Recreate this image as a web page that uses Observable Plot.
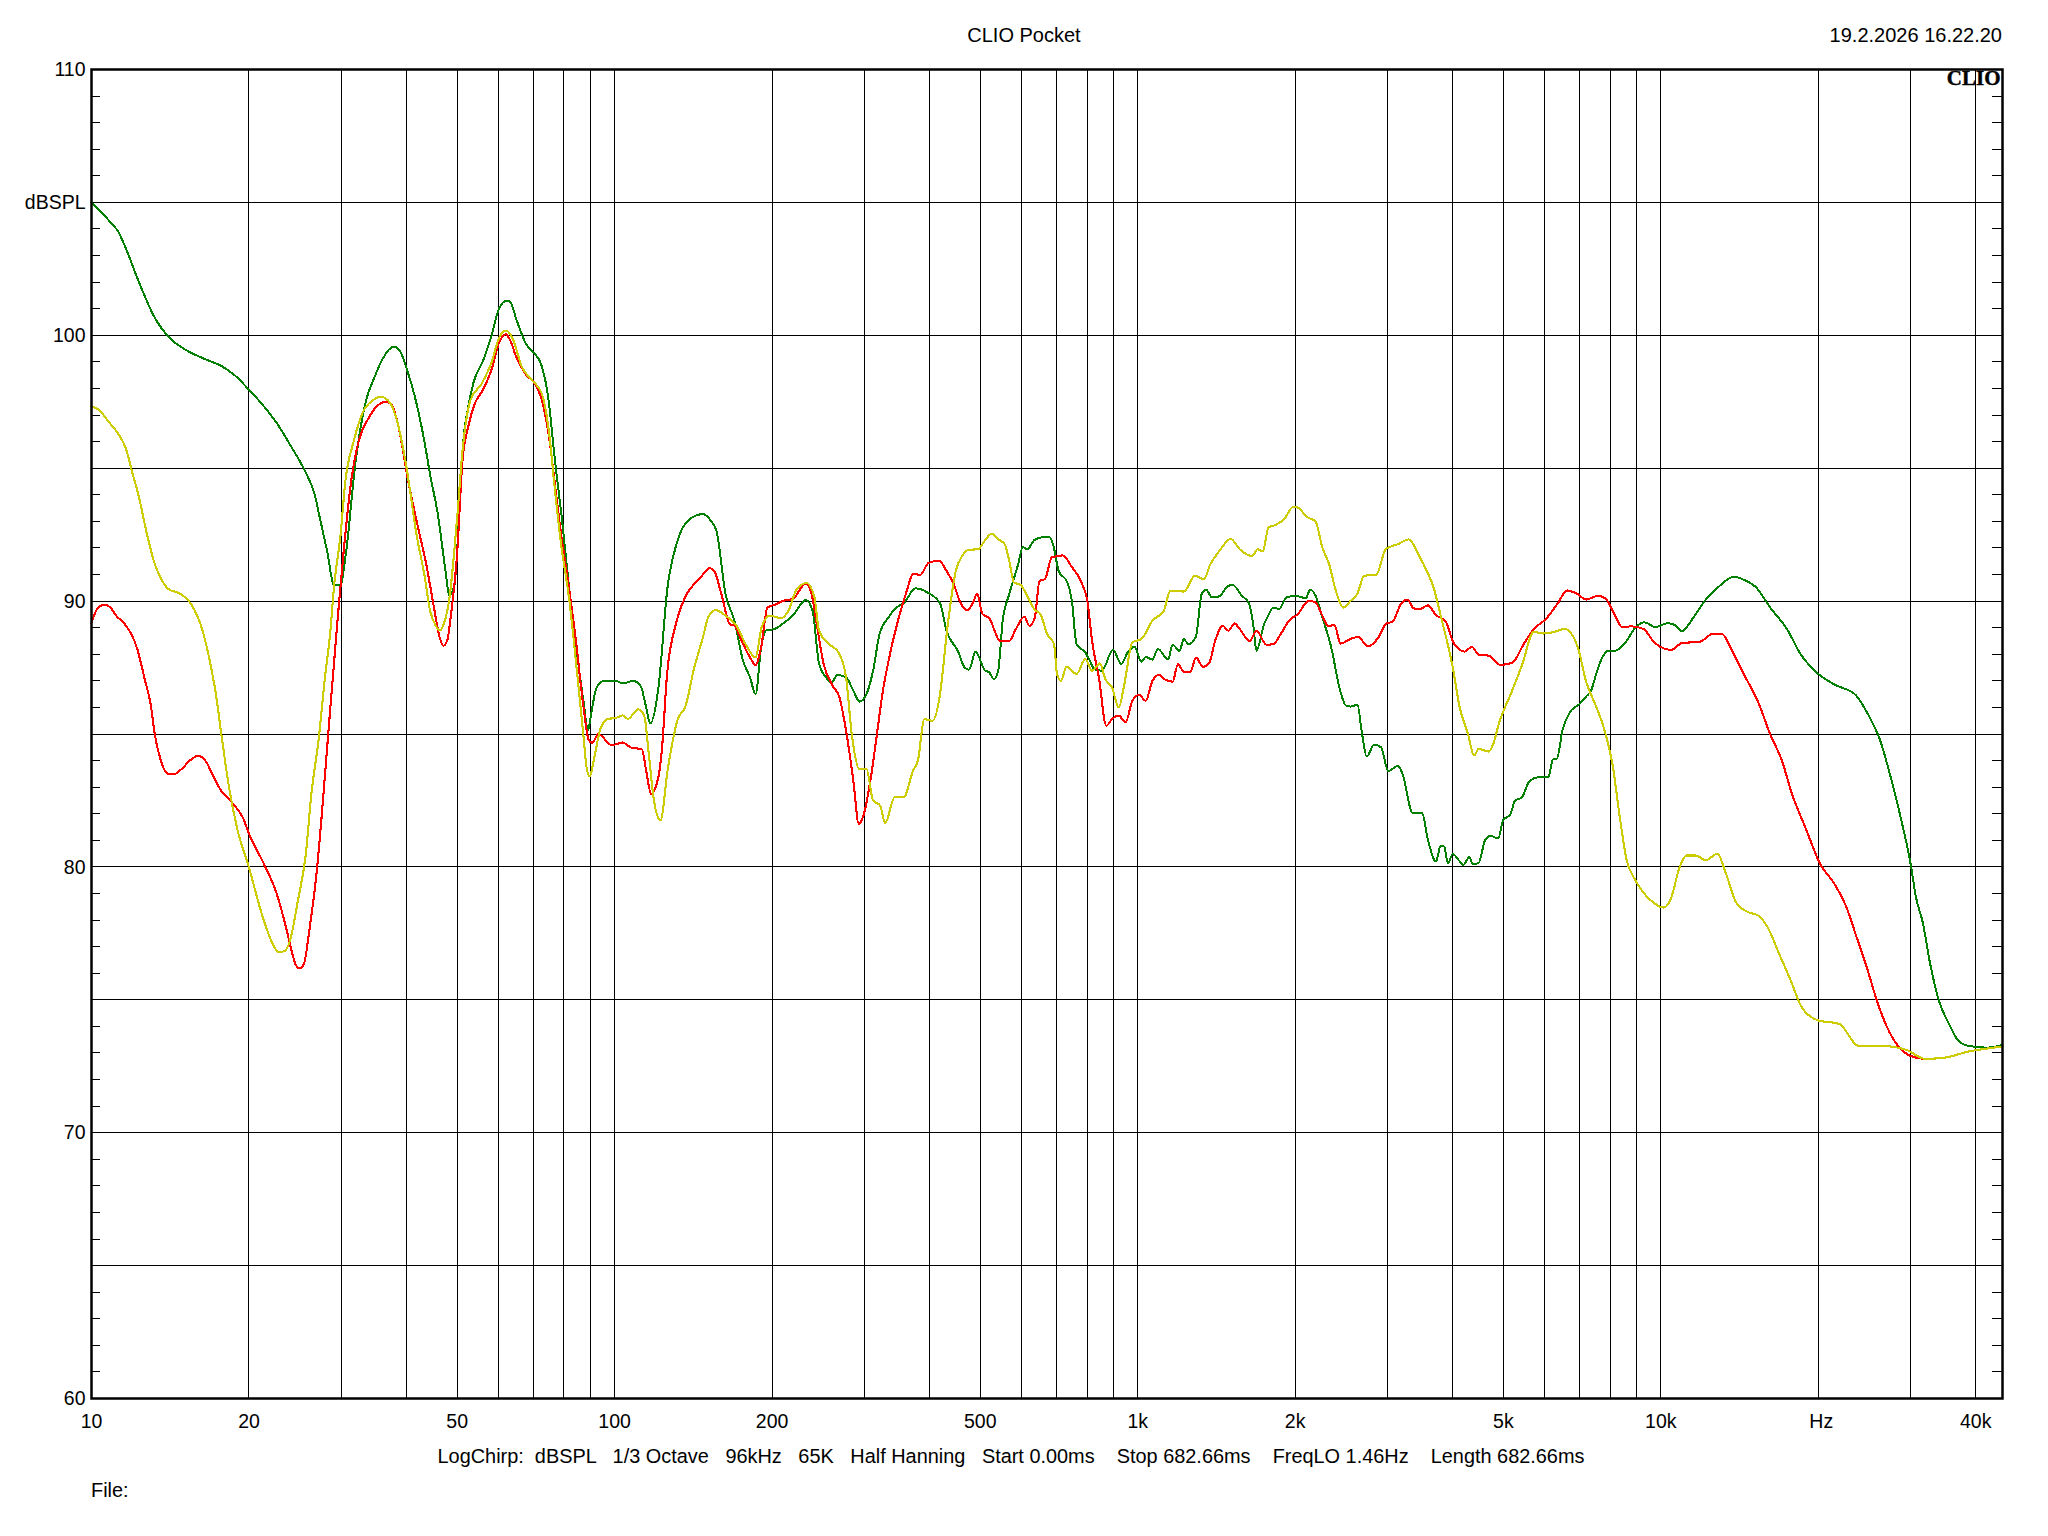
<!DOCTYPE html>
<html>
<head>
<meta charset="utf-8">
<script src="https://cdn.jsdelivr.net/npm/d3@7"></script>
<script src="https://cdn.jsdelivr.net/npm/@observablehq/plot@0.6"></script>
<style>
html,body{margin:0;padding:0;background:#fff;color:#000;font-family:"Liberation Sans",Arial,sans-serif;}
#page{width:2048px;}
#header{position:relative;height:60px;font-size:20px;}
#header .t{position:absolute;top:23px;line-height:24px;white-space:pre;}
#title{left:0;width:2058px;text-align:center;transform:translateX(-5px);}
#date{right:46px;}
#chart svg{display:block;}
#footer{position:relative;height:96px;font-size:19.9px;}
#footer div{position:absolute;white-space:pre;line-height:24px;}
#info{left:0;width:2022px;text-align:center;top:4px;}
#file{left:91px;top:38px;}
</style>
</head>
<body>
<div id="page">
<div id="header"><div class="t" id="title"></div><div class="t" id="date"></div></div>
<div id="chart"></div>
<div id="footer"><div id="info"></div><div id="file"></div></div>
</div>
<script>
const titleText = "CLIO Pocket";
const dateText = "19.2.2026 16.22.20";
const infoText = "LogChirp:  dBSPL   1/3 Octave   96kHz   65K   Half Hanning   Start 0.00ms    Stop 682.66ms    FreqLO 1.46Hz    Length 682.66ms";
const fileText = "File:";

const xGrid = [20,30,40,50,60,70,80,90,100,200,300,400,500,600,700,800,900,1000,2000,3000,4000,5000,6000,7000,8000,9000,10000,20000,30000,40000];
const xLabelled = [10,20,50,100,200,500,1000,2000,5000,10000,20000,40000];
const xLabels = ["10","20","50","100","200","500","1k","2k","5k","10k","Hz","40k"];
const yMajor = [65,70,75,80,85,90,95,100,105];
const yLabelled = [60,70,80,90,100,105,110];
const yMinor = [61,62,63,64,66,67,68,69,71,72,73,74,76,77,78,79,81,82,83,84,86,87,88,89,91,92,93,94,96,97,98,99,101,102,103,104,106,107,108,109];

const greenFreq = [10,10.93,11.25,11.63,12.35,13.18,14.1,15,16.5,17.7,18.9,20,21.1,22.6,24.1,25.5,26.8,27.2,28.2,29.1,29.9,30.6,32,33.4,34.8,36,37.8,38.8,40.1,41.5,43.3,44.4,45.9,47.5,48.3,49.4,50.4,51.2,52.5,53.7,56.2,58.2,60.1,62.2,63.2,64.9,67.6,70,72.4,74.9,76.7,79.4,82.1,84.9,87.1,89,90,92.4,95.5,100.4,104,108.4,112.2,114.6,117,121.3,126.2,131.3,139,147.5,152,156.6,163,169.5,176,181.5,186,190.6,195,202,210,219,232,239,246,253.5,260,266.5,277,286,294,303,312,321,334,344,358,376,396,419,431,453,467,476,490,510,520,531,541,552,568,591,603,615,634,652,676,689,706,734,749,764,794,810,826,854,897,930,957,986,1016,1036,1067,1093,1143,1166,1202,1225,1250,1292,1325,1351,1387,1433,1491,1521,1581,1629,1662,1687,1745,1770,1816,1862,1926,2003,2096,2137,2188,2254,2344,2438,2500,2552,2630,2685,2741,2830,2919,3013,3143,3208,3354,3493,3590,3718,3793,3853,3919,4000,4130,4190,4305,4368,4487,4613,4731,4885,5000,5152,5261,5430,5600,5840,6095,6221,6330,6490,6700,6985,7205,7360,7520,7710,7925,8175,8520,8985,9310,9770,10300,10630,10965,11560,12190,12970,13800,14420,15190,16180,17420,18540,19950,21480,23600,24880,26240,27640,28840,30080,30700,31700,32700,34100,35570,37080,38680,42070,45000];
const greenDb = [105,104.2,103.9,103.27,101.95,100.7,99.9,99.5,99.1,98.85,98.45,97.95,97.45,96.7,95.8,94.95,93.9,93.3,91.9,90.6,90.6,91.7,95.3,97.46,98.45,99.1,99.57,99.44,98.7,97.7,96,94.75,93.3,91.15,90.2,90.6,93.1,95.66,97.3,98.2,99.1,100,101,101.3,101.25,100.6,99.7,99.35,98.9,97.46,95.5,93,90.25,87.9,86.3,85.15,85.65,86.75,87,87,86.9,87,86.8,86.1,85.4,86.75,90.5,92.14,93.08,93.27,93.08,92.64,90.26,89.26,87.76,87.13,86.5,88.26,88.9,88.95,89.16,89.45,90.04,89.64,87.63,87.13,86.94,87.22,87.13,86.63,86.22,86.5,87.38,88.76,89.39,89.72,89.95,90.48,90.33,89.91,88.88,88.13,87.5,87.42,88.1,87.4,87.32,87.07,87.38,89.26,90.26,91.39,92.04,91.95,92.29,92.39,92.43,92.14,91.14,90.7,89.95,88.38,88.07,87.76,87.44,87.38,88.17,87.63,88.07,88.28,87.72,87.9,87.8,88.2,87.8,88.36,88.13,88.57,88.38,88.66,90.26,90.43,90.14,90.18,90.58,90.6,90.2,89.95,89.14,88.13,89.14,89.39,89.76,89.7,90.14,90.2,90.11,90.43,90.2,89.39,88.26,86.63,86.07,86.03,86.1,85,84.15,84.6,84.5,83.6,83.8,83.5,82.04,82.04,81,80.2,80.8,80.77,80.13,80.48,80.2,80.07,80.37,80.1,80.15,81,81.17,81.07,81.77,81.96,82.48,82.63,83.2,83.37,83.37,84.04,84.07,85.16,85.82,86.12,86.42,86.64,87.24,87.83,88.13,88.13,88.4,89.05,89.2,89.02,89.17,89.1,88.87,89.4,90.06,90.58,90.92,90.8,90.53,89.76,88.95,87.98,87.28,86.86,86.46,85.75,84.78,83.22,81.74,80.03,78.92,77.88,76.39,74.9,74.09,73.45,73.27,73.2,73.3];

const redFreq = [10,10.26,10.6,10.88,11.16,11.54,12.24,12.66,12.98,13.2,13.55,14,14.36,14.86,15.5,16,16.57,17.1,17.7,18.6,19.45,20.1,21.3,22.6,23.6,24.2,24.6,25.05,25.5,26.1,27,27.7,28.4,28.9,29.5,30.4,31.4,32.5,33.9,35,36.6,37.5,38.8,40.1,41.9,43.7,45.2,46.3,47.1,47.9,48.7,49.96,51.2,52.5,53.9,56.2,58.2,60.1,61.9,63.2,64.9,67.6,70.6,72.4,74.9,76.7,78.7,81.4,84.2,87.1,89.3,90.6,93.1,98.8,103.6,107.5,112.7,115,117.4,121,123,126,131,138,142,146,152,155,160,166,169.5,175,181.5,186,190.6,196,204,210,219,232,238,244,251,261,269,277,286,293,299,309,318,325,334,348,362,372,384,398,417,431,445,458,473,486,493,505,520,546,568,585,607,621,636,649,665,685,719,748,778,802,818,843,871,893,920,948,977,1006,1036,1067,1100,1122,1166,1194,1225,1261,1292,1333,1371,1406,1454,1491,1531,1567,1636,1687,1762,1816,1877,1945,2023,2123,2188,2254,2312,2377,2443,2547,2639,2754,2889,2982,3076,3175,3277,3367,3454,3589,3718,3877,4018,4217,4351,4487,4684,4934,5200,5483,5717,6026,6350,6622,6908,7206,7595,7870,8166,8433,8792,9268,9670,9980,10470,10965,11880,12570,13120,13680,14420,15350,16180,17060,17790,18930,20180,21480,22650,23610,24880,25950,27350,28840,30390,31990,34830,38680,45000];
const redDb = [89.17,89.71,89.87,89.75,89.44,89.17,88.18,87.01,86.1,85.03,84.04,83.5,83.48,83.68,84.04,84.18,83.95,83.4,82.86,82.4,81.87,81.15,80.16,78.99,77.64,76.74,76.29,76.18,76.38,77.64,79.98,82.5,85.2,87,89.17,92.05,94.58,96.1,96.9,97.3,97.5,97.37,96.38,94.76,92.95,91.33,89.71,88.63,88.32,88.54,89.53,91.7,95.3,96.56,97.37,98,98.72,99.71,100.04,99.8,99.17,98.54,98.14,97.64,96.2,94.58,92.77,90.8,88.63,86.1,84.76,84.67,84.99,84.58,84.68,84.49,84.43,83.58,82.74,83.3,84.3,87.26,89.14,90.33,90.64,90.89,91.24,91.14,90.26,89.14,89.07,88.5,87.88,87.6,88.26,89.76,89.89,90.01,90.08,90.66,90.26,89.01,87.63,86.82,86.38,85.13,83.25,81.62,81.93,83.37,85.13,86.5,87.76,89.26,90.39,91.02,90.99,91.43,91.52,91.14,90.64,89.95,89.66,90.01,90.29,89.51,89.36,88.5,88.5,88.95,89.41,89.07,89.39,90.76,90.83,91.64,91.72,91.29,90.76,89.95,88.5,87.13,85.31,85.56,85.69,85.44,86.25,86.47,86.25,87,87.23,87.07,86.97,87.63,87.34,87.34,87.88,87.53,87.69,88.5,89.07,88.88,89.16,88.95,88.5,88.88,88.36,88.38,88.76,89.26,89.51,90.01,89.95,89.45,89.07,89.09,88.4,88.57,88.65,88.3,88.65,89.14,89.24,89.84,90.06,89.73,89.69,89.84,89.47,89.24,88.42,88.1,88.28,87.98,87.95,87.6,87.68,88.42,88.95,89.32,89.91,90.4,90.28,90.06,90.2,90.06,89.47,89.02,89.05,88.95,88.5,88.28,88.16,88.42,88.47,88.77,88.75,88.13,87.24,86.2,85,83.97,82.78,81.44,80.1,79.36,78.47,77.43,76.09,74.9,73.79,73.12,72.85,72.78,72.82,73.05,73.24];

const yellowFreq = [10,10.34,10.79,11.25,11.63,11.93,12.34,12.77,13.2,13.55,14,14.86,15.5,16.3,16.8,17.3,17.75,18.3,19,20,21.2,22.1,22.8,23.4,24,24.8,25.7,26.3,27.2,27.9,28.6,29.1,29.9,30.6,31.7,33,34.5,35.7,36.9,38.2,39.8,41.9,43.3,44.4,45.5,46.4,47.2,48.3,50,51.2,53,55.7,58.2,60.1,62,63.8,66.5,69.4,72.4,74.9,76.7,78.7,82.1,84.9,87.1,88.5,89.7,91.1,94,97.2,100.4,103.6,106,111,114,115.9,118.9,122.4,126.2,132.3,136.4,142,147.5,151,156,163,171,178,186,191,198,208,215,223,233,241,246,256,268,277,284,294,303,312,322,329,343,357,372,380,391,405,419,432,449,462,476,495,510,526,541,557,568,580,597,615,634,652,671,692,701,713,731,764,794,818,847,867,893,920,943,977,1016,1067,1122,1154,1225,1286,1338,1377,1433,1506,1567,1655,1695,1734,1779,1832,1905,1984,2023,2105,2188,2254,2322,2392,2474,2547,2630,2710,2858,2982,3143,3296,3454,3563,3680,3793,4000,4130,4280,4395,4487,4684,4786,4887,5200,5430,5717,5965,6221,6557,6934,7205,7518,7800,8090,8346,8606,8892,9177,9570,10130,10470,10850,11200,11680,12180,12840,13250,13970,14720,15350,16000,16870,17780,18540,19950,21950,23880,26240,29440,31990,34830,38680,45000];
const yellowDb = [97.33,97.19,96.74,96.29,95.75,94.94,93.86,92.5,91.42,90.88,90.47,90.25,89.89,88.9,87.82,86.47,84.85,83.05,81.42,79.98,78.18,77.19,76.8,76.83,77.28,78.72,80.52,82.68,84.85,87,88.81,90.6,92.41,94.58,96,97.1,97.55,97.69,97.55,96.92,95.3,92.41,90.97,89.62,89.08,88.9,89.17,90.07,93.13,95.66,97.55,98.18,98.99,99.89,100.18,99.89,98.81,98.32,97.86,96.38,94.4,92.41,89.89,87.19,85.03,83.68,83.4,83.95,85.2,85.57,85.6,85.7,85.57,85.93,85.66,84.49,82.5,81.75,83.6,85.6,86,87.5,88.63,89.39,89.66,89.45,89.07,88.38,87.88,89.01,89.45,89.36,89.64,90.45,90.68,90.14,88.88,88.41,88.07,87.13,85,83.68,83.68,82.5,82.3,81.65,82.62,82.62,83.62,84,85.56,85.5,86.5,88.88,91.14,91.7,91.93,91.95,92.27,92.54,92.33,92.14,91.52,90.7,90.61,90.2,89.7,89.51,88.76,88.38,87.26,87,87.53,87.26,87.82,87.38,87.66,87.07,86.75,86,86.88,88.45,88.57,89.26,89.64,90.39,90.36,90.95,90.83,91.39,91.89,92.34,91.95,91.7,91.95,91.87,92.77,92.86,93.08,93.55,93.52,93.17,92.99,92.02,91.39,90.39,89.76,89.99,90.28,90.95,91,91.96,92.14,92.32,91.69,91.17,90.5,89.47,87.53,85.97,85,84.19,84.44,84.34,84.64,85.3,86.64,87.6,88.84,88.78,88.83,88.95,88.28,86.94,86.05,85.16,83.82,81.89,80.25,79.58,79.14,78.74,78.47,78.84,79.96,80.43,80.43,80.25,80.5,79.88,78.62,78.29,78.17,77.73,76.69,75.65,74.76,74.23,74.09,73.27,73.27,73.12,72.78,72.82,73.05,73.24];

const pts = (f, d) => f.map((x, i) => ({f: x, db: d[i]}));
const labelOf = d => xLabels[xLabelled.indexOf(d)];

document.getElementById("title").textContent = titleText;
document.getElementById("date").textContent = dateText;
document.getElementById("info").textContent = infoText;
document.getElementById("file").textContent = fileText;

const gridStyle = {stroke: "#000", strokeWidth: 1, shapeRendering: "crispEdges"};
const lineStyle = {x: "f", y: "db", curve: "monotone-x", shapeRendering: "crispEdges"};
const xText = {x: d => d, frameAnchor: "bottom", dy: 29, text: labelOf, fontSize: 19.5, fill: "#000"};
const chart = Plot.plot({
  width: 2048,
  height: 1380,
  marginTop: 9,
  marginBottom: 42,
  marginLeft: 91,
  marginRight: 46,
  style: {background: "#fff", color: "#000", fontFamily: '"Liberation Sans", Arial, sans-serif', fontSize: "19.5px", overflow: "visible"},
  x: {type: "log", domain: [10, 45000], range: [91, 2002], axis: null},
  y: {domain: [60, 110]},
  marks: [
    Plot.ruleX(xGrid, gridStyle),
    Plot.ruleY(yMajor, gridStyle),
    Plot.ruleY(yMinor, {x1: 10, x2: 10.4, ...gridStyle}),
    Plot.ruleY(yMinor, {x1: 43100, x2: 45000, ...gridStyle}),
    Plot.line(pts(greenFreq, greenDb), {...lineStyle, stroke: "#008000", strokeWidth: 2}),
    Plot.line(pts(redFreq, redDb), {...lineStyle, stroke: "#ff0000", strokeWidth: 2.1}),
    Plot.line(pts(yellowFreq, yellowDb), {...lineStyle, stroke: "#cccc00", strokeWidth: 2.1}),
    Plot.text(["CLIO"], {frameAnchor: "top-right", dx: -2, dy: 1, text: d => d, fontFamily: '"Liberation Serif", serif', fontWeight: "bold", fontSize: 21, fill: "#000", stroke: "#000", strokeWidth: 0.4}),
    Plot.text(xLabelled.filter(d => d !== 20000), xText),
    Plot.text([20000], {...xText, dx: 3}),
    Plot.axisY({ticks: yLabelled, tickFormat: d => d === 105 ? "dBSPL" : String(d), tickSize: 0, tickPadding: 6, label: null, fontSize: 19.5, dy: 0.4}),
    Plot.frame({stroke: "#000", strokeWidth: 2.5})
  ]
});
document.getElementById("chart").appendChild(chart);
</script>
</body>
</html>
